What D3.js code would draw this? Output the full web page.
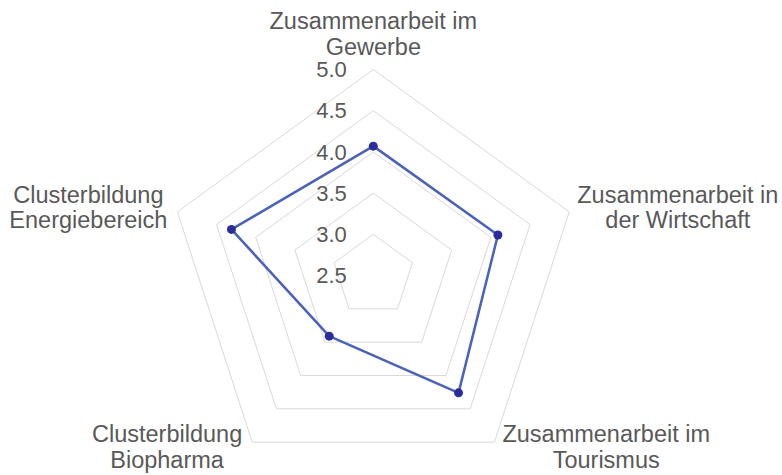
<!DOCTYPE html>
<html lang="de">
<head>
<meta charset="utf-8">
<title>Radar</title>
<script src="https://cdn.jsdelivr.net/npm/d3@7"></script>
<style>
  html, body { margin: 0; padding: 0; background: #fff; }
  text { font-family: "Liberation Sans", Arial, sans-serif; fill: #595959; }
</style>
</head>
<body>
<script>
// categories, one per axis, clockwise from the top
var categories = [
  ["Zusammenarbeit im", "Gewerbe"],
  ["Zusammenarbeit in", "der Wirtschaft"],
  ["Zusammenarbeit im", "Tourismus"],
  ["Clusterbildung", "Biopharma"],
  ["Clusterbildung", "Energiebereich"]
];
var values = [4.07, 4.09, 4.26, 3.41, 4.31];
var ticks = [2.5, 3.0, 3.5, 4.0, 4.5, 5.0];

var width = 782, height = 475;
var cx = 373.3, cy = 275.5, outerR = 206;
var tickSize = 22, labelSize = 23.5, lineH = 25.5;

var svg = d3.select("body").append("svg")
  .attr("width", width)
  .attr("height", height);

// radial scale: center is the lowest tick
var r = d3.scaleLinear().domain([ticks[0], ticks[ticks.length - 1]]).range([0, outerR]);
var angle = d3.scaleLinear().domain([0, categories.length]).range([0, 2 * Math.PI]);

function pt(i, v) {
  var a = angle(i);
  return [cx + Math.sin(a) * r(v), cy - Math.cos(a) * r(v)];
}

// grid rings (skip the center one, it's just a point)
var g = svg.append("g");
ticks.slice(1).forEach(function(t) {
  var poly = categories.map(function(c, i) { return pt(i, t); });
  g.append("polygon")
    .attr("points", poly.map(function(p) { return p.join(","); }).join(" "))
    .attr("fill", "none")
    .attr("stroke", "#d9d9d9")
    .attr("stroke-width", 1);
});

// tick labels, right aligned left of the vertical axis
g.selectAll(".tick").data(ticks).enter().append("text")
  .attr("class", "tick")
  .attr("x", cx - 26.5)
  .attr("y", function(d) { return cy - r(d); })
  .attr("dy", "0.35em")
  .attr("text-anchor", "end")
  .style("font-size", tickSize + "px")
  .text(function(d) { return d.toFixed(1); });

// data line
var line = d3.line().curve(d3.curveLinearClosed);
var pts = values.map(function(v, i) { return pt(i, v); });
svg.append("path")
  .attr("d", line(pts))
  .attr("fill", "none")
  .attr("stroke", "#4a62b8")
  .attr("stroke-width", 2.5)
  .attr("stroke-linejoin", "round");

svg.selectAll(".dot").data(pts).enter().append("circle")
  .attr("class", "dot")
  .attr("cx", function(d) { return d[0]; })
  .attr("cy", function(d) { return d[1]; })
  .attr("r", 4.5)
  .attr("fill", "#2b2e9a");

// category labels
categories.forEach(function(lines, i) {
  var v = pt(i, ticks[ticks.length - 1]);
  var t = svg.append("text")
    .attr("text-anchor", "middle")
    .style("font-size", labelSize + "px");
  lines.forEach(function(s, k) {
    t.append("tspan").attr("x", 0).attr("dy", k === 0 ? 0 : lineH).text(s);
  });
  var w = t.node().getBBox().width;
  var x, y;
  var sx = Math.sin(angle(i));
  if (Math.abs(sx) < 0.01) {
    x = v[0]; y = v[1] - 15 - lineH;
  } else {
    x = sx > 0 ? v[0] + 8 + w / 2 : v[0] - 10 - w / 2;
    y = Math.cos(angle(i)) > 0 ? v[1] - 9 : v[1];
  }
  t.attr("transform", "translate(" + x + "," + y + ")");
});
</script>
</body>
</html>
